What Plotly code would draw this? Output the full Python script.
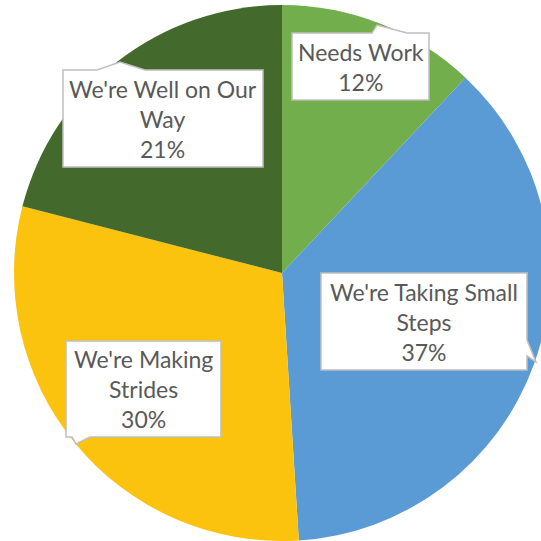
import plotly.graph_objects as go

categories = ["Needs Work", "We're Taking Small Steps", "We're Making Strides", "We're Well on Our Way"]
values = [12, 37, 30, 21]
label_lines = ["Needs Work", "We're Taking Small<br>Steps", "We're Making<br>Strides", "We're Well on Our<br>Way"]
colors = ["#72AE4C", "#5B9BD5", "#FBC20E", "#44692C"]

W, H = 550, 541
ML, MT = 14, 5
PW = W - ML
PH = H - MT


def px(x):
    return (x - ML) / PW


def py(y):
    return 1 - (y - MT) / PH


fig = go.Figure(go.Pie(
    labels=categories, values=values, sort=False, direction="clockwise",
    rotation=0, marker=dict(colors=colors, line=dict(width=0)),
    textinfo="none", hole=0, showlegend=False,
))

# callout outlines in pixels (box corners plus pointer)
callouts = [
    [(292, 33), (372, 33), (377, 25), (407, 33), (429, 33), (429, 100), (292, 100)],
    [(321, 273), (527, 273), (527, 340), (536, 362), (527, 356), (527, 370), (321, 370)],
    [(66, 341), (221, 341), (221, 437), (90, 437), (76, 444), (72, 437), (66, 437)],
    [(63, 70), (97, 70), (120, 62), (145, 70), (263, 70), (263, 167), (63, 167)],
]
centers = [(360.5, 66.5), (424, 321.5), (143.5, 389), (163, 118.5)]

for pts in callouts:
    path = "M " + " L ".join(f"{px(x):.5f},{py(y):.5f}" for x, y in pts) + " Z"
    fig.add_shape(type="path", path=path, xref="paper", yref="paper",
                  fillcolor="white", line=dict(color="#BFBFBF", width=1.5), layer="above")

total = sum(values)
for lab, v, (cx, cy) in zip(label_lines, values, centers):
    fig.add_annotation(
        text=f"{lab}<br>{round(100 * v / total)}%",
        xref="paper", yref="paper", x=px(cx), y=py(cy),
        xanchor="center", yanchor="middle", showarrow=False,
        font=dict(family="Lato", size=23, color="#595959"), align="center",
    )

fig.update_layout(
    width=W, height=H, autosize=False,
    margin=dict(l=ML, r=0, t=MT, b=0, pad=0),
    paper_bgcolor="white", plot_bgcolor="white",
)
fig.write_html("out.html", config={"displayModeBar": False},
               post_script="document.body.style.margin='0';document.body.style.overflow='hidden';")
